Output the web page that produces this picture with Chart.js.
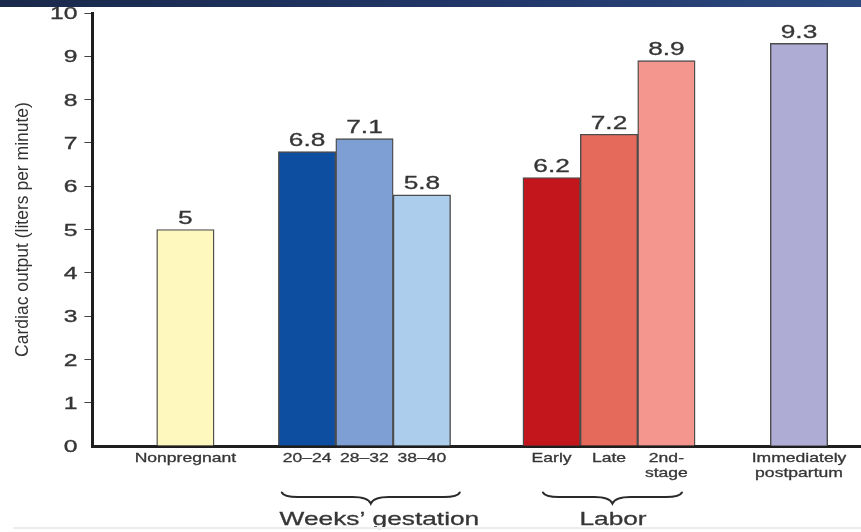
<!DOCTYPE html>
<html>
<head>
<meta charset="utf-8">
<script src="https://cdn.jsdelivr.net/npm/chart.js@4"></script>
<style>
  html, body { margin: 0; padding: 0; background: #fff; }
  #wrap { position: relative; width: 861px; height: 532px; overflow: hidden; }
  #band { position: absolute; left: 0; top: 0; width: 861px; height: 7px; z-index: 2;
          background: linear-gradient(90deg, #19294b, #22386a 60%, #2c4a80); }
  #foot { position: absolute; left: 13px; top: 527px; width: 848px; height: 2px; background: #ededed; }
  canvas { display: block; }
</style>
</head>
<body>
<div id="wrap">
  <canvas id="c" width="861" height="532"></canvas>
  <div id="band"></div>
  <div id="foot"></div>
</div>
<script>
// Cardiac output (L/min) before pregnancy, through gestation, labor and just after delivery
const categories = ['Nonpregnant', '20–24', '28–32', '38–40', 'Early', 'Late', '2nd-stage', 'Immediately postpartum'];
const tickLabels = [['Nonpregnant'], ['20–24'], ['28–32'], ['38–40'], ['Early'], ['Late'], ['2nd-', 'stage'], ['Immediately', 'postpartum']];
const cardiacOutput = [5, 6.8, 7.1, 5.8, 6.2, 7.2, 8.9, 9.3];
const groupNames = ['Weeks’ gestation', 'Labor'];
const yAxisTitle = 'Cardiac output (liters per minute)';

// Layout: bar centres along the x axis, in bar widths
const slotX = [1.62, 3.74, 4.74, 5.74, 8.0, 9.0, 10.0, 12.31];
const xMax = 13.39;
const braceSpans = [[3.30, 6.40], [7.85, 10.27]];
const groupTextX = [5.0, 9.07];

// Styles
const barColors = ['#fef8bf', '#0d4ea0', '#7e9fd4', '#adcdec', '#c3161c', '#e66a5b', '#f4968e', '#aeacd5'];
const FONT = '"Liberation Sans", Arial, Helvetica, sans-serif';
const TEXT = '#363636';

// Text widened horizontally, with a hairline stroke for a slightly heavier face
function wideText(ctx, text, x, y, size, sx, align, weight) {
  ctx.save();
  ctx.font = size + 'px ' + FONT;
  ctx.textAlign = align;
  ctx.textBaseline = 'alphabetic';
  ctx.translate(x, y);
  ctx.scale(sx, 1);
  ctx.fillText(text, 0, 0);
  if (weight) {
    ctx.lineWidth = weight;
    ctx.strokeStyle = TEXT;
    ctx.strokeText(text, 0, 0);
  }
  ctx.restore();
}

function brace(ctx, x1, x2, yTop, yMid, yTip, rEnd, rMid) {
  const xm = (x1 + x2) / 2;
  ctx.beginPath();
  ctx.moveTo(x1, yTop);
  ctx.quadraticCurveTo(x1 + 2, yMid, x1 + rEnd, yMid);
  ctx.lineTo(xm - rMid, yMid);
  ctx.quadraticCurveTo(xm - 3, yMid, xm, yTip);
  ctx.quadraticCurveTo(xm + 3, yMid, xm + rMid, yMid);
  ctx.lineTo(x2 - rEnd, yMid);
  ctx.quadraticCurveTo(x2 - 2, yMid, x2, yTop);
  ctx.stroke();
}

const annotate = {
  id: 'annotate',
  afterDraw(chart) {
    const ctx = chart.ctx;
    const xs = chart.scales.x, ys = chart.scales.y;
    ctx.save();
    ctx.fillStyle = TEXT;

    // y tick labels
    ys.ticks.forEach((t, i) => {
      const py = ys.getPixelForTick(i);
      wideText(ctx, t.label, ys.right - 15, py + 6.1, 17, 1.45, 'right', 0.35);
    });

    // category labels under the axis
    xs.ticks.forEach((t, i) => {
      const px = xs.getPixelForTick(i);
      [].concat(t.label).forEach((line, k) => {
        wideText(ctx, line, px, xs.top + 16 + k * 14.5, 13, 1.35, 'center', 0.3);
      });
    });

    // value above each bar
    const meta = chart.getDatasetMeta(0);
    meta.data.forEach((bar, i) => {
      wideText(ctx, String(cardiacOutput[i]), bar.x, bar.y - 5.5, 17.5, 1.5, 'center', 0.3);
    });

    // group braces and names
    groupNames.forEach((name, g) => {
      const x1 = xs.getPixelForValue(braceSpans[g][0]);
      const x2 = xs.getPixelForValue(braceSpans[g][1]);
      ctx.strokeStyle = '#2a2a2a';
      ctx.lineWidth = 2;
      ctx.lineCap = 'round';
      brace(ctx, x1, x2, xs.top + 46.5, xs.top + 51, xs.top + 57.5, 16, 18);
      wideText(ctx, name, xs.getPixelForValue(groupTextX[g]), xs.top + 78.5, 18.5, 1.42, 'center', 0.3);
    });
    ctx.restore();
  }
};

new Chart(document.getElementById('c'), {
  type: 'bar',
  data: {
    datasets: [{
      data: categories.map((c, i) => ({ x: slotX[i], y: cardiacOutput[i] })),
      backgroundColor: barColors,
      borderColor: '#4c4c4c',
      borderWidth: 1.4,
      categoryPercentage: 1,
      barPercentage: 1
    }]
  },
  options: {
    responsive: false,
    animation: false,
    devicePixelRatio: 1,
    layout: { padding: { top: 13, right: 0, bottom: 86, left: 8.3 } },
    plugins: { legend: { display: false }, tooltip: { enabled: false } },
    scales: {
      x: {
        type: 'linear',
        min: 0,
        max: xMax,
        bounds: 'data',
        offset: false,
        grid: { display: false, drawTicks: false, offset: false },
        border: { display: true, width: 3, color: '#1e1e1e' },
        ticks: { display: false, callback: (v, i) => tickLabels[i] },
        afterBuildTicks: s => { s.ticks = slotX.map(v => ({ value: v })); }
      },
      y: {
        min: 0,
        max: 10,
        ticks: { display: false, stepSize: 1 },
        grid: {
          drawOnChartArea: false,
          drawTicks: true,
          tickLength: 8,
          lineWidth: 1,
          tickColor: c => (c.tick && c.tick.value === 0 ? 'rgba(0,0,0,0)' : '#444')
        },
        border: { display: true, width: 3, color: '#1e1e1e' },
        title: {
          display: true,
          text: yAxisTitle,
          color: '#333',
          font: { family: FONT, size: 17.5 },
          padding: { top: 4, bottom: 51.1 }
        }
      }
    }
  },
  plugins: [annotate]
});
</script>
</body>
</html>
